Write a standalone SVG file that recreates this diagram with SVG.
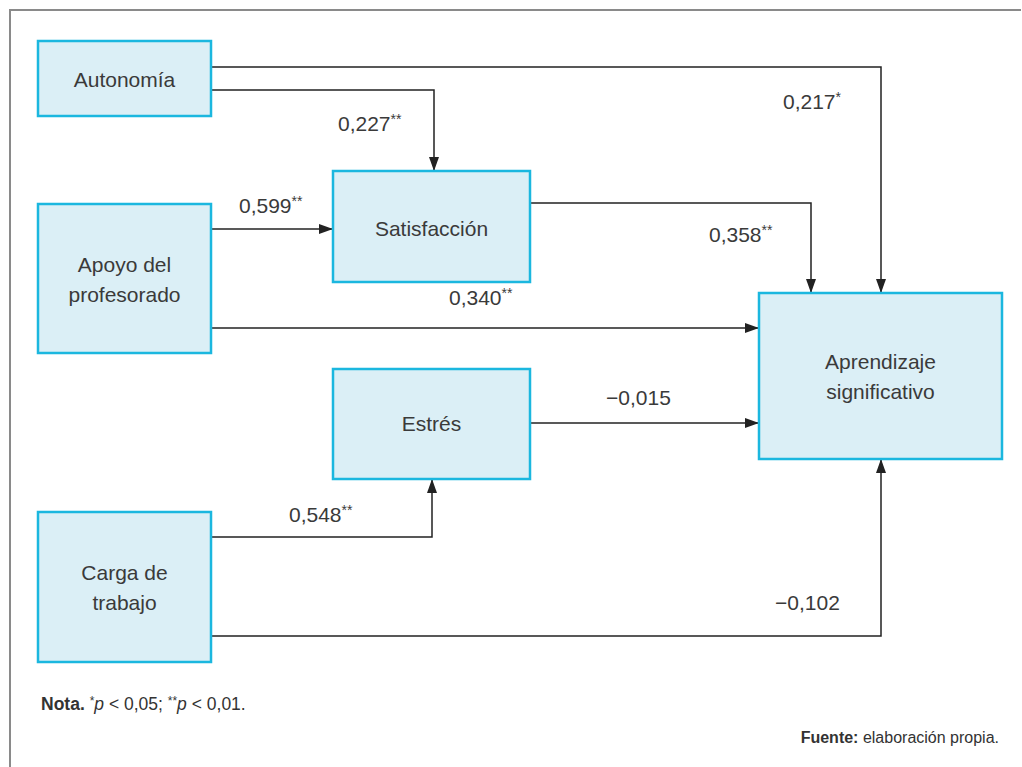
<svg xmlns="http://www.w3.org/2000/svg" width="1022" height="767" viewBox="0 0 1022 767">
<style>
.box{fill:#dbeff6;stroke:#1bb7df;stroke-width:2.5}
.lbl{font-family:"Liberation Sans",Arial,sans-serif;font-size:21px;fill:#3a3a3a}
.nt{font-family:"Liberation Sans",Arial,sans-serif;font-size:21px;fill:#3a3a3a;text-anchor:middle}
.con{fill:none;stroke:#222;stroke-width:1.5}
.sup{font-size:14px}
.foot{font-family:"Liberation Sans",Arial,sans-serif;font-size:17.5px;fill:#333}
.src{font-family:"Liberation Sans",Arial,sans-serif;font-size:16px;fill:#333;text-anchor:end}
</style>
<defs>
<marker id="ah" viewBox="0 0 14 10" refX="14" refY="5" markerWidth="14" markerHeight="10" markerUnits="userSpaceOnUse" orient="auto">
<path d="M0,0 L14,5 L0,10 Z" fill="#222"/>
</marker>
</defs>
<rect width="1022" height="767" fill="#fff"/>
<path d="M10,767 V10 H1021" fill="none" stroke="#8a8a8a" stroke-width="2"/>
<g id="connectors">
<path class="con" d="M211,67 H881 V293" marker-end="url(#ah)"/>
<path class="con" d="M211,90 H434 V171" marker-end="url(#ah)"/>
<path class="con" d="M211,229 H333" marker-end="url(#ah)"/>
<path class="con" d="M211,328 H759" marker-end="url(#ah)"/>
<path class="con" d="M530,203 H811 V293" marker-end="url(#ah)"/>
<path class="con" d="M530,423 H759" marker-end="url(#ah)"/>
<path class="con" d="M211,537 H432 V479" marker-end="url(#ah)"/>
<path class="con" d="M211,636 H881 V459" marker-end="url(#ah)"/>
</g>
<g id="labels">
<text class="lbl" x="783" y="109">0,217<tspan class="sup" dy="-7">*</tspan></text>
<text class="lbl" x="338" y="131">0,227<tspan class="sup" dy="-7">**</tspan></text>
<text class="lbl" x="239" y="213">0,599<tspan class="sup" dy="-7">**</tspan></text>
<text class="lbl" x="709" y="242">0,358<tspan class="sup" dy="-7">**</tspan></text>
<text class="lbl" x="449" y="305">0,340<tspan class="sup" dy="-7">**</tspan></text>
<text class="lbl" x="606" y="405">−0,015</text>
<text class="lbl" x="289" y="522">0,548<tspan class="sup" dy="-7">**</tspan></text>
<text class="lbl" x="775" y="610">−0,102</text>
</g>
<g id="autonomia">
<rect class="box" x="38" y="41" width="173" height="75"/>
<text class="nt" x="124.5" y="87">Autonomía</text>
</g>
<g id="apoyo">
<rect class="box" x="38" y="204" width="173" height="149"/>
<text class="nt" x="124.5" y="272">Apoyo del</text>
<text class="nt" x="124.5" y="302">profesorado</text>
</g>
<g id="satisfaccion">
<rect class="box" x="333" y="171" width="197" height="111"/>
<text class="nt" x="431.5" y="236">Satisfacción</text>
</g>
<g id="estres">
<rect class="box" x="333" y="369" width="197" height="110"/>
<text class="nt" x="431.5" y="431">Estrés</text>
</g>
<g id="carga">
<rect class="box" x="38" y="512" width="173" height="150"/>
<text class="nt" x="124.5" y="580">Carga de</text>
<text class="nt" x="124.5" y="610">trabajo</text>
</g>
<g id="aprendizaje">
<rect class="box" x="759" y="293" width="243" height="166"/>
<text class="nt" x="880.5" y="369">Aprendizaje</text>
<text class="nt" x="880.5" y="399">significativo</text>
</g>
<g id="notes">
<text class="foot" x="41" y="710"><tspan font-weight="bold">Nota.</tspan> <tspan font-size="12" dy="-5">*</tspan><tspan font-style="italic" dy="5">p</tspan> &lt; 0,05; <tspan font-size="12" dy="-5">**</tspan><tspan font-style="italic" dy="5">p</tspan> &lt; 0,01.</text>
<text class="src" x="999" y="743"><tspan font-weight="bold">Fuente:</tspan> elaboración propia.</text>
</g>
</svg>
